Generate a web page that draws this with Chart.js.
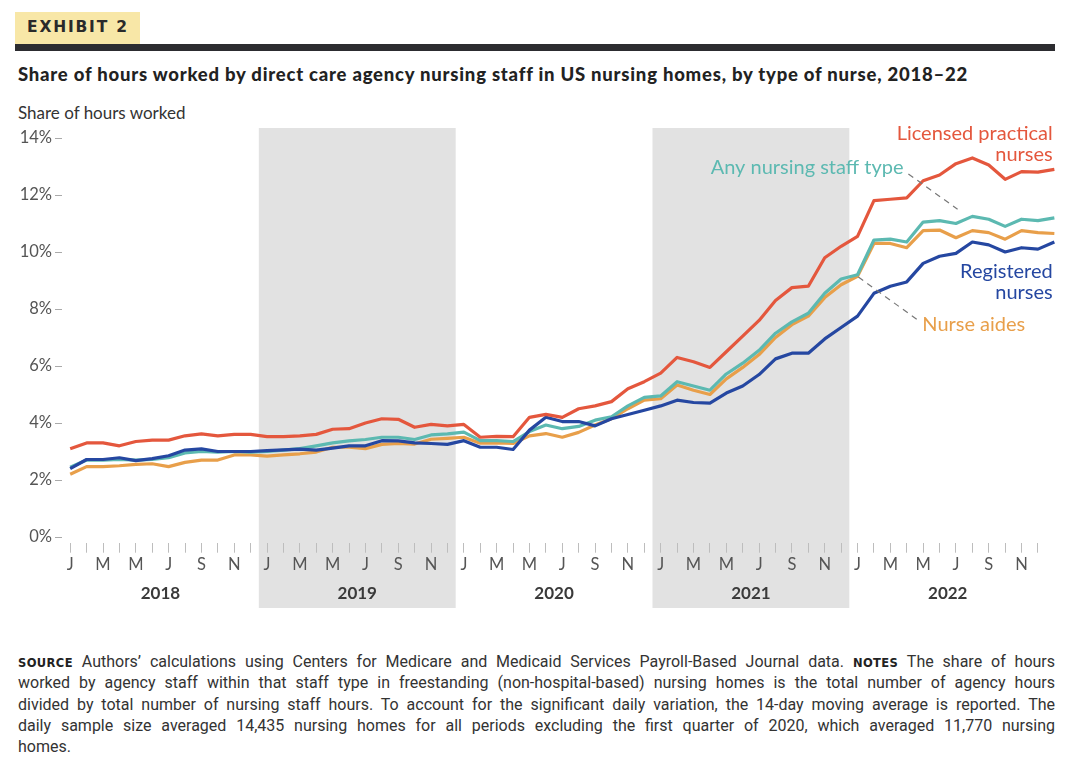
<!DOCTYPE html>
<html>
<head>
<meta charset="utf-8">
<script src="https://cdn.jsdelivr.net/npm/chart.js@4.4.0/dist/chart.umd.min.js"></script>
<style>
  body { margin: 0; background: #fff; width: 1092px; height: 778px; overflow: hidden; font-family: Lato, sans-serif; }
  .exhibit { position: absolute; left: 15px; top: 12px; width: 125px; height: 32px; background: #f8e7a7; }
  .exhibit span { position: absolute; left: 12px; top: 6px; font: bold 15.5px "DejaVu Sans", sans-serif; letter-spacing: 1.8px; color: #2a2a2a; }
  .rule { position: absolute; left: 15px; top: 44px; width: 1040px; height: 7px; background: #2c2c30; }
  .title { position: absolute; left: 18px; top: 63px; font: 900 18.5px Lato, sans-serif; letter-spacing: 0.77px; color: #222; white-space: nowrap; }
  .ytitle { position: absolute; left: 18px; top: 102px; font: 17px Lato, sans-serif; color: #333; }
  .chartbox { position: absolute; left: 0; top: 100px; width: 1092px; height: 520px; }
  .notes { position: absolute; left: 18px; top: 651px; width: 1037px; font: 16px Roboto, sans-serif; line-height: 21.3px; color: #333; }
  .notes div { text-align: justify; text-align-last: justify; }
  .notes div.last { text-align-last: left; }
  .notes b { font: bold 11.5px "DejaVu Sans", sans-serif; letter-spacing: 0.4px; color: #222; }
</style>
</head>
<body>
<div class="exhibit"><span>EXHIBIT 2</span></div>
<div class="rule"></div>
<div class="title">Share of hours worked by direct care agency nursing staff in US nursing homes, by type of nurse, 2018–22</div>
<div class="ytitle">Share of hours worked</div>
<div class="chartbox"><canvas id="chart"></canvas></div>
<div class="notes">
  <div><b>SOURCE</b> Authors’ calculations using Centers for Medicare and Medicaid Services Payroll-Based Journal data. <b>NOTES</b> The share of hours</div>
  <div>worked by agency staff within that staff type in freestanding (non-hospital-based) nursing homes is the total number of agency hours</div>
  <div>divided by total number of nursing staff hours. To account for the significant daily variation, the 14-day moving average is reported. The</div>
  <div>daily sample size averaged 14,435 nursing homes for all periods excluding the first quarter of 2020, which averaged 11,770 nursing</div>
  <div class="last">homes.</div>
</div>

<script>
// months since Jan 1 2018 (mid-month points)
var monthPos = [0.5, 1.5, 2.5, 3.5, 4.5, 5.5, 6.5, 7.5, 8.5, 9.5, 10.5, 11.5,
  12.5, 13.5, 14.5, 15.5, 16.5, 17.5, 18.5, 19.5, 20.5, 21.5, 22.5, 23.5,
  24.5, 25.5, 26.5, 27.5, 28.5, 29.5, 30.5, 31.5, 32.5, 33.5, 34.5, 35.5,
  36.5, 37.5, 38.5, 39.5, 40.5, 41.5, 42.5, 43.5, 44.5, 45.5, 46.5, 47.5,
  48.5, 49.5, 50.5, 51.5, 52.5, 53.5, 54.5, 55.5, 56.5, 57.5, 58.5, 59.5, 60.5];

var lpn = [3.1, 3.3, 3.3, 3.2, 3.35, 3.4, 3.4, 3.55, 3.62, 3.55, 3.6, 3.6,
  3.52, 3.52, 3.55, 3.6, 3.78, 3.8, 4.0, 4.15, 4.13, 3.85, 3.95, 3.9,
  3.95, 3.5, 3.53, 3.52, 4.2, 4.3, 4.2, 4.5, 4.6, 4.75, 5.2, 5.45,
  5.75, 6.3, 6.15, 5.95, 6.5, 7.05, 7.6, 8.3, 8.75, 8.8, 9.8, 10.2,
  10.55, 11.8, 11.85, 11.9, 12.5, 12.7, 13.1, 13.3, 13.05, 12.55, 12.82, 12.8, 12.9];

var rn = [2.4, 2.72, 2.72, 2.78, 2.68, 2.75, 2.85, 3.05, 3.09, 3.0, 3.0, 3.0,
  3.03, 3.06, 3.08, 3.05, 3.12, 3.2, 3.2, 3.38, 3.37, 3.3, 3.28, 3.25,
  3.38, 3.15, 3.15, 3.07, 3.75, 4.2, 4.05, 4.05, 3.9, 4.15, 4.3, 4.45,
  4.6, 4.8, 4.72, 4.7, 5.05, 5.3, 5.7, 6.25, 6.45, 6.45, 6.95, 7.35,
  7.75, 8.55, 8.8, 8.95, 9.6, 9.85, 9.95, 10.35, 10.25, 10.0, 10.15, 10.1, 10.35];

var anyStaff = [2.45, 2.7, 2.7, 2.72, 2.7, 2.72, 2.78, 2.95, 3.0, 2.98, 3.0, 2.98,
  3.0, 3.05, 3.1, 3.2, 3.3, 3.37, 3.42, 3.5, 3.5, 3.42, 3.58, 3.62,
  3.68, 3.38, 3.38, 3.35, 3.7, 3.93, 3.8, 3.88, 4.1, 4.22, 4.6, 4.9,
  4.95, 5.45, 5.3, 5.15, 5.72, 6.1, 6.55, 7.15, 7.55, 7.85, 8.55, 9.05,
  9.2, 10.42, 10.45, 10.35, 11.05, 11.1, 11.0, 11.25, 11.15, 10.9, 11.15, 11.1, 11.2];

var aides = [2.2, 2.47, 2.47, 2.5, 2.55, 2.57, 2.47, 2.62, 2.7, 2.7, 2.88, 2.88,
  2.84, 2.88, 2.92, 2.98, 3.15, 3.15, 3.1, 3.25, 3.28, 3.26, 3.43, 3.46,
  3.5, 3.29, 3.3, 3.28, 3.55, 3.63, 3.5, 3.67, 3.93, 4.15, 4.5, 4.8,
  4.85, 5.33, 5.15, 5.0, 5.55, 5.95, 6.4, 7.0, 7.45, 7.75, 8.4, 8.85,
  9.15, 10.3, 10.3, 10.15, 10.75, 10.77, 10.5, 10.75, 10.68, 10.45, 10.75, 10.68, 10.65];

var monthLetters = ['J', 'F', 'M', 'A', 'M', 'J', 'J', 'A', 'S', 'O', 'N', 'D'];
var monthTicks = monthPos.slice(0, 60);
var years = ['2018', '2019', '2020', '2021', '2022'];
var yearCenters = [6, 18, 30, 42, 54];
var yTicks = [0, 2, 4, 6, 8, 10, 12, 14];
var shadedYears = [[12, 24], [36, 48]];

var colors = { lpn: '#e4573d', rn: '#2547a1', any: '#5cb9b1', aides: '#e89f4a' };

// series labels, in data units (month, percent)
var seriesLabels = [
  { lines: ['Licensed practical', 'nurses'], x: 60.4, y: 14.14, align: 'right', color: colors.lpn },
  { lines: ['Any nursing staff type'], x: 51.3, y: 12.98, align: 'right', color: colors.any },
  { lines: ['Registered', 'nurses'], x: 60.4, y: 9.33, align: 'right', color: colors.rn },
  { lines: ['Nurse aides'], x: 52.45, y: 7.47, align: 'left', color: colors.aides }
];
var leaders = [
  [51.6, 12.74, 54.6, 11.5],
  [48.55, 9.12, 52.25, 7.58]
];

var shadePlugin = {
  id: 'shade',
  beforeDraw: function (chart) {
    var ctx = chart.ctx, x = chart.scales.x;
    ctx.save();
    ctx.fillStyle = '#e2e2e2';
    shadedYears.forEach(function (r) {
      var x1 = x.getPixelForValue(r[0]), x2 = x.getPixelForValue(r[1]);
      ctx.fillRect(x1, chart.chartArea.top - 10, x2 - x1, chart.height - 12 - (chart.chartArea.top - 10));
    });
    ctx.restore();
  }
};

var labelPlugin = {
  id: 'seriesLabels',
  afterDatasetsDraw: function (chart) {
    var ctx = chart.ctx, x = chart.scales.x, y = chart.scales.y;
    ctx.save();
    ctx.strokeStyle = '#777';
    ctx.lineWidth = 1.2;
    ctx.setLineDash([6, 5]);
    leaders.forEach(function (l) {
      ctx.beginPath();
      ctx.moveTo(x.getPixelForValue(l[0]), y.getPixelForValue(l[1]));
      ctx.lineTo(x.getPixelForValue(l[2]), y.getPixelForValue(l[3]));
      ctx.stroke();
    });
    ctx.setLineDash([]);
    ctx.font = '20px Lato, sans-serif';
    ctx.textBaseline = 'middle';
    seriesLabels.forEach(function (s) {
      ctx.fillStyle = s.color;
      ctx.textAlign = s.align;
      var px = x.getPixelForValue(s.x), py = y.getPixelForValue(s.y);
      s.lines.forEach(function (t, i) {
        ctx.fillText(t, px, py + i * 21);
      });
    });
    ctx.restore();
  }
};

function series(label, data, color) {
  return {
    label: label,
    data: data,
    borderColor: color,
    backgroundColor: color,
    borderWidth: 3.2,
    pointRadius: 0,
    tension: 0,
    borderJoinStyle: 'round',
    clip: false
  };
}

new Chart(document.getElementById('chart'), {
  type: 'line',
  data: {
    labels: monthPos,
    datasets: [
      series('Licensed practical nurses', lpn, colors.lpn),
      series('Registered nurses', rn, colors.rn),
      series('Any nursing staff type', anyStaff, colors.any),
      series('Nurse aides', aides, colors.aides)
    ]
  },
  options: {
    responsive: true,
    maintainAspectRatio: false,
    animation: false,
    layout: { padding: { top: 38, right: 36, left: 0, bottom: 0 } },
    plugins: { legend: { display: false }, tooltip: { enabled: false } },
    scales: {
      x: {
        type: 'linear',
        min: 0,
        max: 60.6,
        afterBuildTicks: function (scale) {
          scale.ticks = monthTicks.map(function (v) { return { value: v }; });
        },
        afterFit: function (scale) { scale.height = 34; },
        border: { display: false },
        grid: { drawOnChartArea: false, drawTicks: true, tickLength: 10, color: '#bdbdbd' },
        ticks: {
          autoSkip: false,
          maxRotation: 0,
          padding: 2,
          color: '#555',
          font: { family: 'Lato, sans-serif', size: 16.5 },
          callback: function (v, i) { return i % 2 === 0 ? monthLetters[i % 12] : ''; }
        }
      },
      years: {
        type: 'linear',
        position: 'bottom',
        min: 0,
        max: 60.6,
        afterBuildTicks: function (scale) {
          scale.ticks = yearCenters.map(function (v) { return { value: v }; });
        },
        afterFit: function (scale) { scale.height = 43.3; },
        border: { display: false },
        grid: { display: false, drawTicks: false },
        ticks: {
          autoSkip: false,
          maxRotation: 0,
          padding: 7,
          color: '#3a3a3a',
          font: { family: 'Lato, sans-serif', size: 17, weight: 'bold' },
          callback: function (v, i) { return years[i]; }
        }
      },
      y: {
        min: -0.2,
        max: 14,
        afterBuildTicks: function (scale) {
          scale.ticks = yTicks.map(function (v) { return { value: v }; });
        },
        afterFit: function (scale) { scale.width = 62; },
        border: { display: false },
        grid: { drawOnChartArea: false, drawTicks: true, tickLength: 7, color: '#aaa' },
        ticks: {
          padding: 3,
          color: '#555',
          font: { family: 'Lato, sans-serif', size: 16.5 },
          callback: function (v) { return v + '%'; }
        }
      }
    }
  },
  plugins: [shadePlugin, labelPlugin]
});
</script>
</body>
</html>
